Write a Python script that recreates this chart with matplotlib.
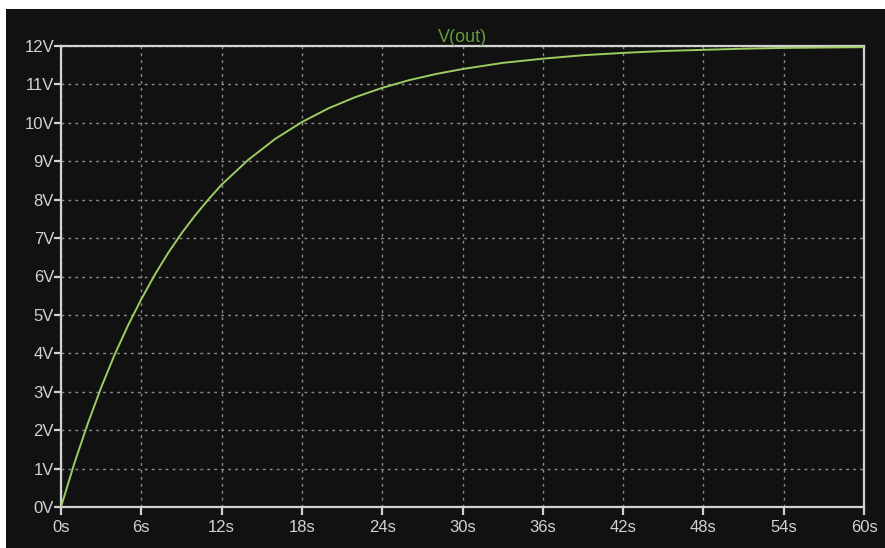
import numpy as np
import matplotlib.pyplot as plt
from matplotlib.patches import Rectangle

# V(out) (seconds, volts)
t_s = [0, 1, 2, 3, 4, 5, 6, 7, 8, 9, 10, 11, 12, 14, 16, 18, 20, 22, 24, 26,
       28, 30, 33, 36, 39, 42, 45, 48, 51, 54, 57, 60]
v_out = [0.0, 1.14, 2.17, 3.11, 3.96, 4.72, 5.41, 6.04, 6.61, 7.12, 7.58, 8.0,
         8.39, 9.04, 9.58, 10.02, 10.38, 10.67, 10.91, 11.11, 11.27, 11.4,
         11.56, 11.67, 11.76, 11.82, 11.87, 11.9, 11.93, 11.95, 11.96, 11.97]

x_ticks = list(range(0, 61, 6))
x_labels = [f"{v}s" for v in x_ticks]
y_ticks = list(range(0, 13))
y_labels = [f"{v}V" for v in y_ticks]

bg = '#111111'
fg = '#d2d2d2'

fig = plt.figure(figsize=(8.85, 5.48), dpi=100, facecolor='white')
# dark panel, leaving the thin white strip at top and left
fig.patches.append(Rectangle((6 / 885, 0), 1 - 6 / 885, (548 - 9) / 548,
                             transform=fig.transFigure, facecolor=bg,
                             edgecolor='none', zorder=-10))

ax = fig.add_axes([61 / 885, 41 / 548, 803 / 885, 461 / 548])
ax.set_zorder(5)
ax.set_facecolor(bg)

ax.plot(t_s, v_out, color='#9ccc62', lw=1.4, zorder=3)

ax.set_xlim(0, 60)
ax.set_ylim(0, 12)
ax.set_xticks(x_ticks)
ax.set_xticklabels(x_labels)
ax.set_yticks(y_ticks)
ax.set_yticklabels(y_labels)

ax.grid(True, color='#8c8c8c', linestyle=(0, (2, 3)), linewidth=1.0)
for sp in ax.spines.values():
    sp.set_color(fg)
    sp.set_linewidth(1.6)

ax.tick_params(axis='x', direction='out', length=6, width=1.6, color=fg,
               labelcolor=fg, labelsize=12, pad=3)
ax.tick_params(axis='y', direction='out', length=5, width=1.6, color=fg,
               labelcolor=fg, labelsize=12, pad=0)
for lab in ax.get_xticklabels() + ax.get_yticklabels():
    lab.set_fontfamily('Liberation Sans')

ax.set_title('V(out)', color='#649a3e', fontsize=13, family='Liberation Sans', pad=2)

fig.savefig('out.png', dpi=100, facecolor=fig.get_facecolor())
